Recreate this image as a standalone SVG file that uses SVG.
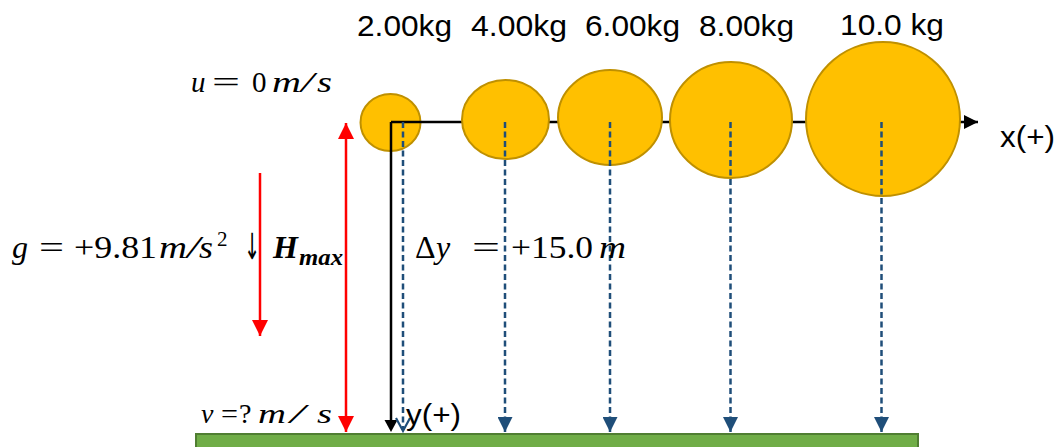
<svg xmlns="http://www.w3.org/2000/svg" width="1061" height="447" viewBox="0 0 1061 447">
<defs>
<style>
.ball{fill:#FFC000;stroke:#BF9000;stroke-width:2}
.axis{fill:none;stroke:#000;stroke-width:2.5}
.drop{fill:none;stroke:#1F4E79;stroke-width:2.5;stroke-dasharray:6 3.5}
.red{fill:none;stroke:#FF0000;stroke-width:2.5}
.lbl{font-family:"Liberation Sans",Arial,sans-serif;font-size:30px;fill:#000}
.m{font-family:"Liberation Serif","Times New Roman",serif;fill:#000}
.mi{font-family:"Liberation Serif","Times New Roman",serif;font-style:italic;fill:#000}
.mb{font-family:"Liberation Serif","Times New Roman",serif;font-style:italic;font-weight:bold;fill:#000}
</style>
<marker id="bh" viewBox="0 0 10 10" refX="10" refY="5" markerWidth="15" markerHeight="15" markerUnits="userSpaceOnUse" orient="auto"><path d="M0,0 L10,5 L0,10 Z" fill="#1F4E79"/></marker>
<marker id="kh" viewBox="0 0 10 10" refX="10" refY="5" markerWidth="14" markerHeight="14" markerUnits="userSpaceOnUse" orient="auto"><path d="M0,0 L10,5 L0,10 Z" fill="#000"/></marker>
<marker id="rh" viewBox="0 0 10 10" refX="10" refY="5" markerWidth="16" markerHeight="16" markerUnits="userSpaceOnUse" orient="auto-start-reverse"><path d="M0,0 L10,5 L0,10 Z" fill="#FF0000"/></marker>
</defs>

<g id="ground"><rect x="196" y="434" width="722" height="20" fill="#70AD47" stroke="#507E32" stroke-width="2"/></g>

<g id="ball1"><ellipse class="ball" cx="390.5" cy="122.5" rx="30" ry="28.5"/></g>

<g id="axes">
<path class="axis" d="M391,122 L978,122" marker-end="url(#kh)"/>
<path class="axis" d="M391,122 L391,420" />
<path d="M384.5,420 L397.5,420 L391,432 Z" fill="#000"/>
</g>

<g id="ball2"><ellipse class="ball" cx="505.5" cy="119.5" rx="43.5" ry="39.5"/></g>
<g id="ball3"><ellipse class="ball" cx="610" cy="117.5" rx="52" ry="47.5"/></g>
<g id="ball4"><ellipse class="ball" cx="731" cy="120" rx="61" ry="58"/></g>
<g id="ball5"><ellipse class="ball" cx="883" cy="119" rx="77" ry="77"/></g>

<g id="connectors">
<path class="drop" d="M403,122 L403,430"/>
<path d="M396,418 L403,431 L410,418" fill="none" stroke="#1F4E79" stroke-width="2.2"/>
<path class="drop" d="M505,122 L505,432" marker-end="url(#bh)"/>
<path class="drop" d="M610,122 L610,432" marker-end="url(#bh)"/>
<path class="drop" d="M730.5,122 L730.5,432" marker-end="url(#bh)"/>
<path class="drop" d="M881.5,122 L881.5,432" marker-end="url(#bh)"/>
<path class="red" d="M346,123 L346,432" marker-start="url(#rh)" marker-end="url(#rh)"/>
<path class="red" d="M260,173 L260,336" marker-end="url(#rh)"/>
</g>

<g id="mass-labels">
<text class="lbl" x="357" y="36" textLength="95" lengthAdjust="spacingAndGlyphs">2.00kg</text>
<text class="lbl" x="471" y="36" textLength="96" lengthAdjust="spacingAndGlyphs">4.00kg</text>
<text class="lbl" x="585" y="36" textLength="95" lengthAdjust="spacingAndGlyphs">6.00kg</text>
<text class="lbl" x="699" y="36" textLength="95" lengthAdjust="spacingAndGlyphs">8.00kg</text>
<text class="lbl" x="840" y="35" textLength="104" lengthAdjust="spacingAndGlyphs">10.0 kg</text>
</g>

<g id="axis-labels">
<text class="lbl" x="1000" y="147" textLength="55" lengthAdjust="spacingAndGlyphs">x(+)</text>
<text class="lbl" x="406" y="425" textLength="55" lengthAdjust="spacingAndGlyphs">y(+)</text>
</g>

<g id="u-label" font-size="29">
<text class="mi" x="191" y="92">u</text>
<text class="m" x="212" y="92" textLength="28" lengthAdjust="spacingAndGlyphs">=</text>
<text class="m" x="252" y="92">0</text>
<text class="mi" x="272" y="92" textLength="29" lengthAdjust="spacingAndGlyphs">m</text>
<text class="mi" x="301" y="92" textLength="13" lengthAdjust="spacingAndGlyphs">/</text>
<text class="mi" x="317" y="92" textLength="15" lengthAdjust="spacingAndGlyphs">s</text>
</g>

<g id="g-label" font-size="32">
<text class="mi" x="12" y="258">g</text>
<text class="m" x="39" y="258" textLength="25" lengthAdjust="spacingAndGlyphs">=</text>
<text class="m" x="74" y="258" textLength="83" lengthAdjust="spacingAndGlyphs">+9.81</text>
<text class="mi" x="159" y="258" textLength="28" lengthAdjust="spacingAndGlyphs">m</text>
<text class="mi" x="187" y="258" textLength="13" lengthAdjust="spacingAndGlyphs">/</text>
<text class="mi" x="199" y="258" textLength="14" lengthAdjust="spacingAndGlyphs">s</text>
<text class="m" x="217" y="246" font-size="21">2</text>
<text x="244" y="259" font-family="DejaVu Sans,sans-serif" font-size="36" textLength="16" lengthAdjust="spacingAndGlyphs">↓</text>
<text class="mb" x="273" y="258">H</text>
<text class="mb" x="299" y="265" font-size="23" textLength="44" lengthAdjust="spacingAndGlyphs">max</text>
</g>

<g id="dy-label" font-size="32">
<text class="m" x="415" y="258">Δ</text>
<text class="mi" x="436" y="258">y</text>
<text class="m" x="472" y="258" textLength="28" lengthAdjust="spacingAndGlyphs">=</text>
<text class="m" x="511" y="258" textLength="82" lengthAdjust="spacingAndGlyphs">+15.0</text>
<text class="mi" x="599" y="258" textLength="27" lengthAdjust="spacingAndGlyphs">m</text>
</g>

<g id="v-label" font-size="28">
<text class="mi" x="201" y="423">v</text>
<text class="m" x="221" y="423" textLength="17" lengthAdjust="spacingAndGlyphs">=</text>
<text class="m" x="239" y="423">?</text>
<text class="mi" x="258" y="423" textLength="28" lengthAdjust="spacingAndGlyphs">m</text>
<text class="mi" x="290" y="423" textLength="15" lengthAdjust="spacingAndGlyphs">/</text>
<text class="mi" x="317" y="423" textLength="15" lengthAdjust="spacingAndGlyphs">s</text>
</g>
</svg>
